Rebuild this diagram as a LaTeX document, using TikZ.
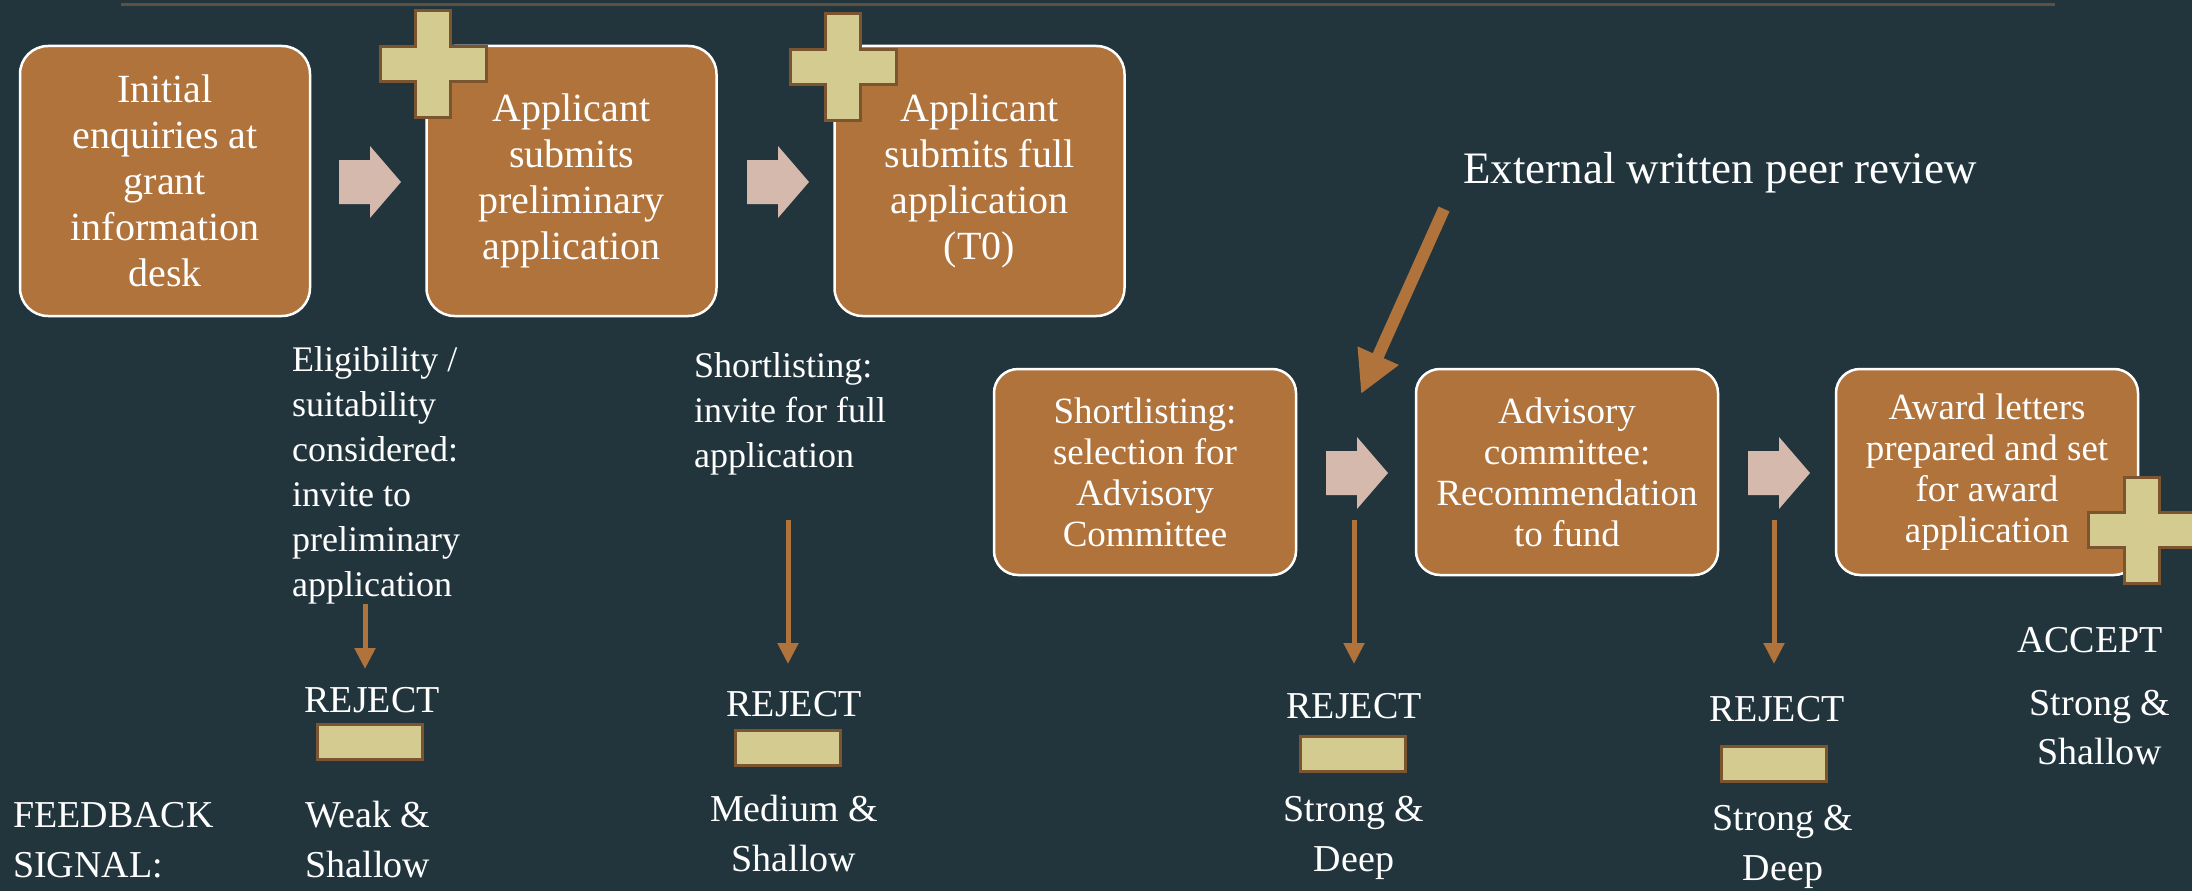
\documentclass[tikz,border=0pt]{standalone}
\usepackage{fontspec}
\setmainfont{Liberation Serif}
\usetikzlibrary{arrows.meta}
\definecolor{bg}{HTML}{22353D}
\definecolor{boxbrown}{HTML}{B0733C}
\definecolor{pale}{HTML}{D4B9AC}
\definecolor{tan}{HTML}{D3CB90}
\definecolor{tanedge}{HTML}{7A5530}
\definecolor{rulecol}{HTML}{5E5142}
\newcommand\fsz[2]{\fontsize{#1}{#2}\selectfont}
\begin{document}
\begin{tikzpicture}[x=1pt,y=-1pt,
  stage/.style={draw=white, line width=2.5pt, fill=boxbrown, text=white, align=center, inner sep=0pt},
  stageA/.style={stage, rounded corners=28pt, minimum width=290pt, minimum height=270pt, font=\fsz{40}{46}},
  stageB/.style={stage, rounded corners=24pt, minimum width=302pt, minimum height=206pt, font=\fsz{37}{41}},
  lbl/.style={text=white, inner sep=0pt},
  tanbox/.style={draw=tanedge, fill=tan, line width=3pt, minimum width=105pt, minimum height=35pt, inner sep=0pt},
  rejarrow/.style={draw=boxbrown, line width=5pt, -{Triangle[length=21pt,width=20pt]}},
  plusstyle/.style={draw=tanedge, fill=tan, line width=3pt},
  blockarr/.pic={\fill[pale] (0,-22) -- (31,-22) -- (31,-36) -- (62,0) -- (31,36) -- (31,22) -- (0,22) -- cycle;},
  plussign/.pic={\draw[plusstyle] (-17.5,-53) -- (17.5,-53) -- (17.5,-17.5) -- (53,-17.5) -- (53,17.5) -- (17.5,17.5) -- (17.5,53) -- (-17.5,53) -- (-17.5,17.5) -- (-53,17.5) -- (-53,-17.5) -- (-17.5,-17.5) -- cycle;}
]
\fill[bg] (0,0) rectangle (2192,891);
\useasboundingbox (0,0) rectangle (2192,891);

% top rule
\coordinate (ruleL) at (121,4.5);
\coordinate (ruleR) at (2055,4.5);
\draw[rulecol, line width=3.5pt] (ruleL) -- (ruleR);

% row 1 stages
\node[stageA] (s1) at (165,181) {Initial\\enquiries at\\grant\\information\\desk};
\node[stageA] (s2) at (571.5,181) {Applicant\\submits\\preliminary\\application};
\node[stageA] (s3) at (979.5,181) {Applicant\\submits full\\application\\(T0)};

% row 2 stages
\node[stageB] (s4) at (1145,472) {Shortlisting:\\selection for\\Advisory\\Committee};
\node[stageB] (s5) at (1567,472) {Advisory\\committee:\\Recommendation\\to fund};
\node[stageB] (s6) at (1987,472) {Award letters\\prepared and set\\for award\\application};

% block arrows
\pic (ba1) at (339,182) {blockarr};
\pic (ba2) at (747,182) {blockarr};
\pic (ba3) at (1326,473) {blockarr};
\pic (ba4) at (1748,473) {blockarr};

% plus signs
\pic (p1) at (433,64) {plussign};
\pic (p2) at (843,67) {plussign};
\pic (p3) at (2141.5,530) {plussign};

% side texts
\node[lbl, anchor=north west, align=left, font=\fsz{36}{45}] (elig) at (292,346)
  {Eligibility /\\suitability\\considered:\\invite to\\preliminary\\application};
\node[lbl, anchor=north west, align=left, font=\fsz{36}{45}] (short) at (694,352)
  {Shortlisting:\\invite for full\\application};
\node[lbl, anchor=base, font=\fsz{45}{54}] (peer) at (1720,183) {External written peer review};

% peer review arrow
\coordinate (peerS) at (1444,209);
\coordinate (peerE) at (1361,394);
\draw[boxbrown, line width=12pt, -{Triangle[length=42pt,width=42pt]}] (peerS) -- (peerE);

% reject arrows
\coordinate (raS) at (365,604);  \coordinate (raE) at (365,669);
\coordinate (rbS) at (788,520);  \coordinate (rbE) at (788,664);
\coordinate (rcS) at (1354,520); \coordinate (rcE) at (1354,664);
\coordinate (rdS) at (1774,520); \coordinate (rdE) at (1774,664);
\draw[rejarrow] (raS) -- (raE);
\draw[rejarrow] (rbS) -- (rbE);
\draw[rejarrow] (rcS) -- (rcE);
\draw[rejarrow] (rdS) -- (rdE);

% REJECT / ACCEPT labels
\node[lbl, anchor=base, font=\fsz{38}{46}] (rja) at (372,712) {REJECT};
\node[lbl, anchor=base, font=\fsz{38}{46}] (rjb) at (794,716) {REJECT};
\node[lbl, anchor=base, font=\fsz{38}{46}] (rjc) at (1354,718) {REJECT};
\node[lbl, anchor=base, font=\fsz{38}{46}] (rjd) at (1777,721) {REJECT};
\node[lbl, anchor=base, font=\fsz{38}{46}] (acc) at (2090,652) {ACCEPT};

% tan bars
\node[tanbox] (ta) at (370,742) {};
\node[tanbox] (tb) at (788,748) {};
\node[tanbox] (tc) at (1353,754) {};
\node[tanbox] (td) at (1774,764) {};

% feedback texts
\node[lbl, anchor=north west, align=left, font=\fsz{38}{50}] (fb) at (13,802) {FEEDBACK\\SIGNAL:};
\node[lbl, anchor=north, align=center, font=\fsz{38}{50}] (fa) at (368,801) {Weak \&\\Shallow};
\node[lbl, anchor=north, align=center, font=\fsz{38}{50}] (fbm) at (794,795) {Medium \&\\Shallow};
\node[lbl, anchor=north, align=center, font=\fsz{38}{50}] (fc) at (1354,796) {Strong \&\\Deep};
\node[lbl, anchor=north, align=center, font=\fsz{38}{50}] (fd) at (1783,805) {Strong \&\\Deep};
\node[lbl, anchor=north, align=center, font=\fsz{38}{49}] (fe) at (2100,690) {Strong \&\\Shallow};
\end{tikzpicture}
\end{document}
